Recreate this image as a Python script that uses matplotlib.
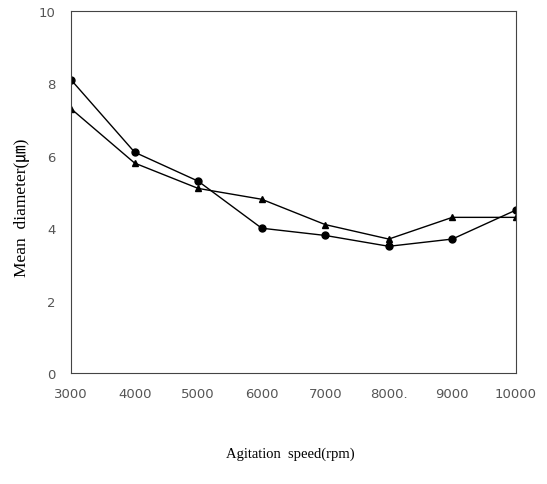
import numpy as np
import matplotlib
matplotlib.use("Agg")
import matplotlib.pyplot as plt

# agitation speed (rpm)
speed = [3000, 4000, 5000, 6000, 7000, 8000, 9000, 10000]
# mean diameter series
diam_circle = [8.1, 6.1, 5.3, 4.0, 3.8, 3.5, 3.7, 4.5]
diam_triangle = [7.3, 5.8, 5.1, 4.8, 4.1, 3.7, 4.3, 4.3]
xtick_labels = ["3000", "4000", "5000", "6000", "7000", "8000.", "9000", "10000"]
ytick_vals = [0, 2, 4, 6, 8, 10]

fig = plt.figure(figsize=(5.47, 4.85), dpi=100)
ax = fig.add_axes([0.130, 0.229, 0.813, 0.746])

ax.plot(speed, diam_circle, color="black", lw=1.0, marker="o", ms=5)
ax.plot(speed, diam_triangle, color="black", lw=1.0, marker="^", ms=5)

ax.set_xlim(3000, 10000)
ax.set_ylim(0, 10)
ax.set_xticks(speed)
ax.set_xticklabels(xtick_labels)
ax.set_yticks(ytick_vals)
ax.tick_params(length=0, labelsize=9.5, labelcolor="#555555")
ax.tick_params(axis="x", pad=10)
ax.tick_params(axis="y", pad=11)
for s in ax.spines.values():
    s.set_linewidth(0.8)
    s.set_color("#444444")

# axis titles placed by hand like the scanned original
fig.text(0.040, 0.571, "Mean  diameter(㎛)", family=["Liberation Serif", "Noto Sans CJK KR"],
         fontsize=12.5, rotation=90, ha="center", va="center")
fig.text(0.53, 0.055, "Agitation  speed(rpm)", family="Liberation Serif",
         fontsize=10.5, ha="center")

fig.savefig("out.png", dpi=100)
